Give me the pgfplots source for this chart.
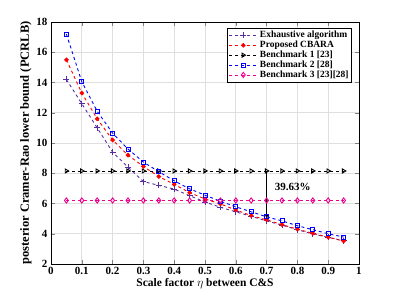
\documentclass[border=0pt]{standalone}
\usepackage{fontspec}
\setmainfont{Liberation Serif}
\usepackage{pgfplots}
\pgfplotsset{compat=1.18}
\definecolor{exhc}{RGB}{85,45,160}
\begin{document}
\begin{tikzpicture}
\begin{axis}[
  scale only axis, width=308pt, height=242pt,
  xmin=0, xmax=1, ymin=2, ymax=18,
  xtick={0,0.1,0.2,0.3,0.4,0.5,0.6,0.7,0.8,0.9,1},
  ytick={2,4,6,8,10,12,14,16,18},
  xticklabels={0,0.1,0.2,0.3,0.4,0.5,0.6,0.7,0.8,0.9,1},
  /pgf/number format/assume math mode=true,
  tick label style={font=\fontsize{11}{13}\selectfont\bfseries},
  tick align=inside,
  grid=major, major grid style={gray!25, line width=0.6pt},
  axis line style={line width=0.8pt},
  xlabel={\fontsize{11.5}{13}\selectfont\bfseries Scale factor $\eta$ between C\&S},
  ylabel={\fontsize{12.5}{15}\selectfont\bfseries posterior Cramer-Rao lower bound (PCRLB)},
  xlabel style={yshift=3pt},
  ylabel style={yshift=-2pt},
  legend style={at={(0.977,0.975)}, anchor=north east, font=\fontsize{9.5}{10}\selectfont\bfseries, draw=black, line width=0.6pt, inner sep=1pt, row sep=-2.2pt},
  legend cell align=left,
  legend image code/.code={\draw[mark repeat=2,mark phase=2] plot coordinates {(0cm,0cm) (0.5cm,0cm) (1cm,0cm)};},
  every axis plot/.append style={dashed, line width=0.9pt},
]
\addplot[color=exhc, mark=+, mark size=3pt, mark options={solid}] coordinates {
(0.05,14.2)(0.1,12.6)(0.15,11.0)(0.2,9.4)(0.25,8.4)(0.3,7.45)(0.35,7.2)(0.4,6.95)(0.45,6.52)(0.5,6.1)(0.55,5.75)(0.6,5.45)(0.65,5.15)(0.7,4.85)(0.75,4.57)(0.8,4.27)(0.85,3.99)(0.9,3.76)(0.95,3.54)};
\addlegendentry{{Exhaustive algorithm}}
\addplot[color=red, mark=*, mark size=1.8pt, mark options={solid}] coordinates {
(0.05,15.5)(0.1,13.3)(0.15,11.6)(0.2,10.2)(0.25,9.2)(0.3,8.45)(0.35,7.78)(0.4,7.27)(0.45,6.72)(0.5,6.3)(0.55,5.97)(0.6,5.57)(0.65,5.2)(0.7,4.92)(0.75,4.6)(0.8,4.3)(0.85,4.03)(0.9,3.77)(0.95,3.52)};
\addlegendentry{{Proposed CBARA}}
\addplot[color=black, mark=triangle, mark size=2.3pt, mark options={solid, rotate=270}] coordinates {
(0.05,8.15)(0.1,8.15)(0.15,8.15)(0.2,8.15)(0.25,8.15)(0.3,8.15)(0.35,8.15)(0.4,8.15)(0.45,8.15)(0.5,8.15)(0.55,8.15)(0.6,8.15)(0.65,8.15)(0.7,8.15)(0.75,8.15)(0.8,8.15)(0.85,8.15)(0.9,8.15)(0.95,8.15)};
\addlegendentry{{Benchmark 1 [23]}}
\addplot[color=blue, mark=square, mark size=2pt, mark options={solid}] coordinates {
(0.05,17.2)(0.1,14.05)(0.15,12.1)(0.2,10.65)(0.25,9.6)(0.3,8.74)(0.35,8.1)(0.4,7.5)(0.45,6.97)(0.5,6.55)(0.55,6.15)(0.6,5.78)(0.65,5.45)(0.7,5.12)(0.75,4.85)(0.8,4.53)(0.85,4.27)(0.9,4.0)(0.95,3.78)};
\addlegendentry{{Benchmark 2 [28]}}
\addplot[color=magenta, mark=diamond, mark size=2.6pt, mark options={solid}] coordinates {
(0.05,6.2)(0.1,6.2)(0.15,6.2)(0.2,6.2)(0.25,6.2)(0.3,6.2)(0.35,6.2)(0.4,6.2)(0.45,6.2)(0.5,6.2)(0.55,6.2)(0.6,6.2)(0.65,6.2)(0.7,6.2)(0.75,6.2)(0.8,6.2)(0.85,6.2)(0.9,6.2)(0.95,6.2)};
\addlegendentry{{Benchmark 3 [23][28]}}
\draw[-latex, line width=0.8pt] (axis cs:0.7,8.15) -- (axis cs:0.7,4.95);
\node[font=\fontsize{11}{13}\selectfont\bfseries] at (axis cs:0.785,7.1) {39.63\%};
\end{axis}
\path (current axis.south west) ++(-51pt,-33pt) rectangle ++(397pt,297pt);
\end{tikzpicture}
\end{document}
